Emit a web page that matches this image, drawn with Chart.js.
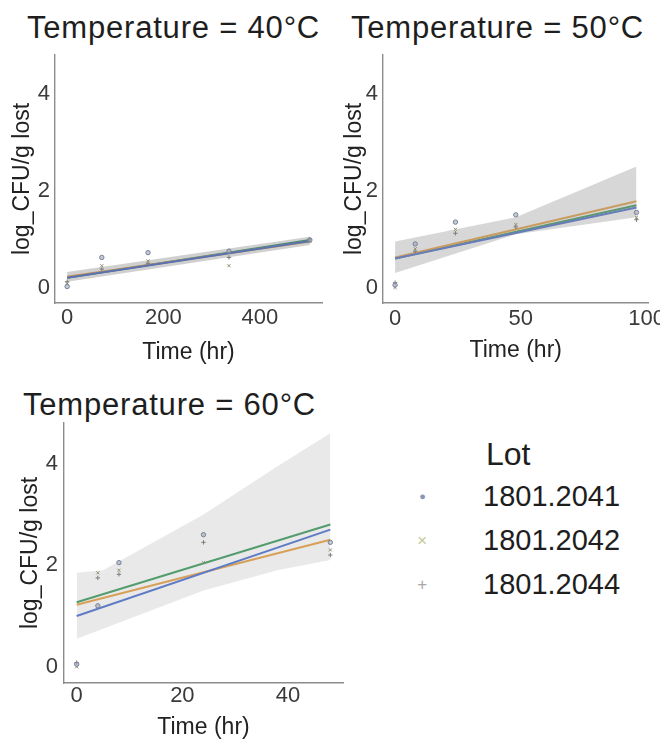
<!DOCTYPE html>
<html><head><meta charset="utf-8">
<script src="https://cdn.jsdelivr.net/npm/chart.js@4.4.1/dist/chart.umd.min.js"></script>
<style>
html,body{margin:0;padding:0;background:#fff;width:660px;height:742px;overflow:hidden;position:relative;font-family:"Liberation Sans",Arial,sans-serif;color:#1e1e1e;}
.title{position:absolute;font-size:31px;line-height:31px;white-space:nowrap;letter-spacing:0.8px;}
.box{position:absolute;}
.leg{position:absolute;white-space:nowrap;}
.mk{position:absolute;line-height:1;}
</style></head><body>
<div class="title" style="left:27px;top:12px">Temperature = 40°C</div>
<div class="title" style="left:351px;top:12px">Temperature = 50°C</div>
<div class="title" style="left:23px;top:389px">Temperature = 60°C</div>

<div class="box" style="left:0px;top:50px;width:340px;height:330px"><canvas id="c40"></canvas></div>
<div class="box" style="left:328px;top:50px;width:340px;height:330px"><canvas id="c50"></canvas></div>
<div class="box" style="left:0px;top:415px;width:360px;height:327px"><canvas id="c60"></canvas></div>

<div class="leg" id="legTitle" style="left:486px;top:438px;font-size:32px;line-height:32px;">Lot</div>
<div id="legItems"></div>

<script>
// ---------------- data ----------------
const lots = ['1801.2041', '1801.2042', '1801.2044'];
const yTicks = [0, 2, 4];

// 40 °C
const time40 = [0, 72, 168, 336, 504];
const obs40_2041 = [0.02, 0.62, 0.72, 0.75, 0.98];
const obs40_2042 = [0.08, 0.45, 0.55, 0.45, 0.95];
const obs40_2044 = [0.12, 0.38, 0.50, 0.62, 1.00];
const fitT40 = [0, 504];
const fit40_2041 = [0.20, 0.96];
const fit40_2042 = [0.22, 0.95];
const fit40_2044 = [0.20, 0.98];
const bandT40 = [0, 504];
const band40Low = [0.12, 0.88];
const band40High = [0.32, 1.05];
const xTicks40 = [0, 200, 400];

// 50 °C
const time50 = [0, 8, 24, 48, 96];
const obs50_2041 = [0.05, 0.90, 1.35, 1.50, 1.55];
const obs50_2042 = [0.00, 0.80, 1.20, 1.30, 1.45];
const obs50_2044 = [0.10, 0.75, 1.12, 1.25, 1.40];
const fitT50 = [0, 96];
const fit50_2041 = [0.60, 1.65];
const fit50_2042 = [0.62, 1.78];
const fit50_2044 = [0.60, 1.70];
const bandT50 = [0, 48, 96];
const band50Low = [0.30, 1.10, 1.45];
const band50High = [0.95, 1.45, 2.50];
const xTicks50 = [0, 50, 100];

// 60 °C
const time60 = [0, 4, 8, 24, 48];
const obs60_2041 = [0.05, 1.20, 2.05, 2.60, 2.45];
const obs60_2042 = [0.00, 1.85, 1.90, 2.05, 2.30];
const obs60_2044 = [0.08, 1.75, 1.82, 2.45, 2.20];
const fitT60 = [0, 48];
const fit60_2041 = [1.00, 2.70];
const fit60_2042 = [1.22, 2.50];
const fit60_2044 = [1.27, 2.80];
const bandT60 = [0, 5, 24, 38, 48];
const band60Low = [0.55, 0.75, 1.50, 1.90, 2.10];
const band60High = [1.85, 1.90, 3.00, 3.95, 4.60];
const xTicks60 = [0, 20, 40];

// ---------------- styles ----------------
const FONT = '"Liberation Sans", Arial, sans-serif';
Chart.defaults.font.family = FONT;
Chart.defaults.color = '#333';
const lineColors = ['#4a6fd0', '#e8a040', '#3a9a5c'];
const pointStyles = ['circle', 'crossRot', 'cross'];
const pointColors = ['#76809a', '#8f9070', '#7c7c7c'];
const legendMarkColors = ['#8a94b8', '#c4c89a', '#a8a8a8'];

const pts = (xs, ys) => xs.map((x, i) => ({x: x, y: ys[i]}));

function buildPanel(id, cfg) {
  const ds = [];
  cfg.obs.forEach((o, i) => ds.push({
    type: 'scatter', label: lots[i], data: pts(cfg.time, o),
    pointStyle: pointStyles[i], pointRadius: 2.2, borderWidth: 1,
    borderColor: pointColors[i], backgroundColor: 'rgba(160,165,180,0.6)'
  }));
  const lowIdx = ds.length;
  ds.push({type: 'line', label: 'band low', data: pts(cfg.bandT, cfg.bandLow),
    borderWidth: 0, borderColor: 'rgba(0,0,0,0)', pointRadius: 0, fill: false, tension: 0});
  ds.push({type: 'line', label: 'band high', data: pts(cfg.bandT, cfg.bandHigh),
    borderWidth: 0, borderColor: 'rgba(0,0,0,0)', pointRadius: 0, tension: 0,
    fill: {target: lowIdx}, backgroundColor: cfg.bandColor});
  cfg.fits.forEach((f, i) => ds.push({
    type: 'line', label: 'fit ' + lots[i], data: pts(cfg.fitT, f),
    borderColor: lineColors[i], borderWidth: 2, pointRadius: 0, fill: false, tension: 0
  }));

  new Chart(document.getElementById(id), {
    type: 'scatter',
    data: {datasets: ds},
    options: {
      responsive: true, maintainAspectRatio: false, animation: false,
      layout: {padding: {top: cfg.padTop, right: cfg.padRight, bottom: 0, left: 0}},
      plugins: {legend: {display: false}, tooltip: {enabled: false}, title: {display: false}},
      scales: {
        x: {
          type: 'linear', min: cfg.xMin, max: cfg.xMax,
          grid: {display: false, drawTicks: false},
          border: {display: true, color: '#8c8c8c', width: 1.4},
          afterBuildTicks: a => { a.ticks = cfg.xTicks.map(v => ({value: v})); },
          ticks: {font: {size: 22}, color: '#3a3a3a', padding: cfg.xTickPad, maxRotation: 0, autoSkip: false},
          title: {display: true, text: 'Time (hr)', color: '#222', font: {size: 23},
                  padding: {top: 0, bottom: cfg.xTitlePad}},
          afterFit: s => { s.height = cfg.xH; s.paddingLeft = 0; }
        },
        y: {
          type: 'linear', min: -0.32, max: 4.8,
          grid: {display: false, drawTicks: false},
          border: {display: true, color: '#8c8c8c', width: 1.4},
          afterBuildTicks: a => { a.ticks = yTicks.map(v => ({value: v})); },
          ticks: {font: {size: 22}, color: '#3a3a3a', padding: cfg.yTickPad, autoSkip: false},
          title: {display: true, text: 'log_CFU/g lost', color: '#222', font: {size: 23},
                  padding: {top: cfg.yTitlePad, bottom: 0}},
          afterFit: s => { s.width = cfg.yW; s.paddingTop = 0; s.paddingBottom = 0; }
        }
      }
    }
  });
}

buildPanel('c40', {
  time: time40, obs: [obs40_2041, obs40_2042, obs40_2044],
  fitT: fitT40, fits: [fit40_2041, fit40_2042, fit40_2044],
  bandT: bandT40, bandLow: band40Low, bandHigh: band40High, bandColor: 'rgba(120,120,120,0.35)',
  xTicks: xTicks40, xMin: -25.2, xMax: 529.2,
  padTop: 5, padRight: 18, xH: 77, yW: 55, xTickPad: 2, xTitlePad: 14, yTickPad: 5, yTitlePad: 9
});
buildPanel('c50', {
  time: time50, obs: [obs50_2041, obs50_2042, obs50_2044],
  fitT: fitT50, fits: [fit50_2041, fit50_2042, fit50_2044],
  bandT: bandT50, bandLow: band50Low, bandHigh: band50High, bandColor: 'rgba(150,150,150,0.38)',
  xTicks: xTicks50, xMin: -4.8, xMax: 100.8,
  padTop: 5, padRight: 17, xH: 77, yW: 55, xTickPad: 3, xTitlePad: 16, yTickPad: 5, yTitlePad: 13
});
buildPanel('c60', {
  time: time60, obs: [obs60_2041, obs60_2042, obs60_2044],
  fitT: fitT60, fits: [fit60_2041, fit60_2042, fit60_2044],
  bandT: bandT60, bandLow: band60Low, bandHigh: band60High, bandColor: 'rgba(165,165,165,0.24)',
  xTicks: xTicks60, xMin: -2.4, xMax: 50.4,
  padTop: 8, padRight: 17, xH: 59, yW: 64, xTickPad: 0, xTitlePad: 1, yTickPad: 6, yTitlePad: 17
});

// ---------------- legend ----------------
const legSymbols = ['●', '×', '+'];
const legSizes = [11, 17, 17];
const legItems = document.getElementById('legItems');
lots.forEach((lot, i) => {
  const top = 482 + i * 44;
  const t = document.createElement('div');
  t.className = 'leg';
  t.style.cssText = `left:483px;top:${top}px;font-size:29px;line-height:29px;`;
  t.textContent = lot;
  legItems.appendChild(t);
  const m = document.createElement('div');
  m.className = 'mk';
  m.style.cssText = `left:${423 - legSizes[i] / 3}px;top:${top + 14 - legSizes[i] / 2}px;font-size:${legSizes[i]}px;color:${legendMarkColors[i]};`;
  m.textContent = legSymbols[i];
  legItems.appendChild(m);
});
</script>
</body></html>
